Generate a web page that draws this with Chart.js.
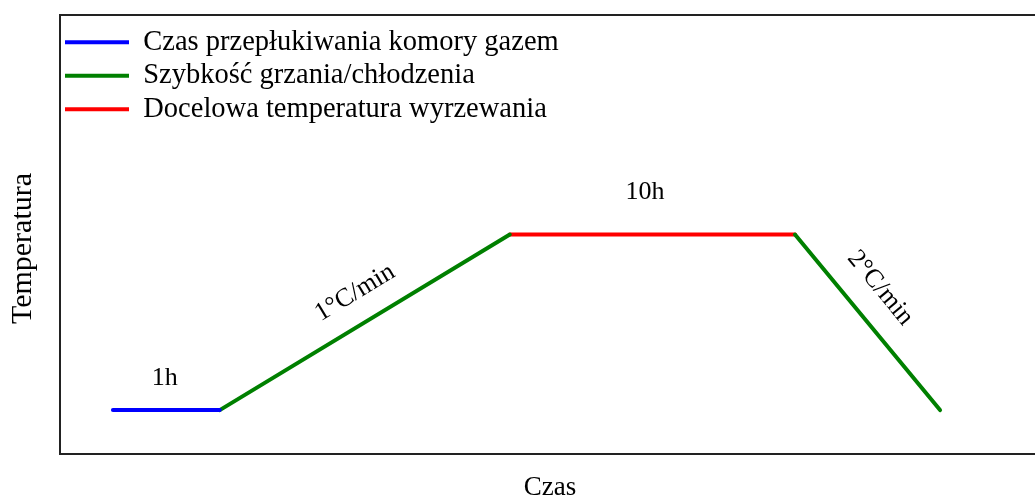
<!DOCTYPE html>
<html>
<head>
<meta charset="utf-8">
<script src="https://cdn.jsdelivr.net/npm/chart.js@4.4.0/dist/chart.umd.min.js"></script>
<style>
  html, body { margin: 0; padding: 0; background: #fff; overflow: hidden; }
  #wrap { width: 1045px; height: 495px; }
</style>
</head>
<body>
<div id="wrap"><canvas id="procesChart"></canvas></div>
<script>
// dane (jednostki umowne)
const czasPlukania = [5.4, 16.3];
const tempPlukania = [10, 10];

const czasGrzania = [16.3, 45.9, 60, 75, 89.8];
const tempGrzania = [10, 50, null, 50, 10];

const czasWygrzewania = [45.9, 75];
const tempWygrzewania = [50, 50];

const etykiety = ['1h', '1\u00B0C/min', '10h', '2\u00B0C/min'];
const etykietyX = [10.7, 30.1, 59.7, 83.7];
const etykietyY = [17.3, 36.7, 59.7, 37.8];
// odcinek, wzdłuż którego obrócony jest napis (indeksy w czasGrzania), null = poziomo
const etykietyOdcinek = [null, [0, 1], null, [3, 4]];

const FONT = "'Liberation Serif', 'Times New Roman', serif";

function toPoints(xs, ys) {
  return xs.map((x, i) => ({ x: x, y: ys[i] }));
}

const ramka = {
  id: 'ramka',
  afterDraw(chart) {
    const { ctx, chartArea } = chart;
    ctx.save();
    ctx.strokeStyle = '#222';
    ctx.lineWidth = 2;
    ctx.strokeRect(chartArea.left, chartArea.top, chartArea.right - chartArea.left, chartArea.bottom - chartArea.top);
    // tytuł osi Y, lekko poniżej środka jak w oryginale
    ctx.fillStyle = '#000';
    ctx.font = '30px ' + FONT;
    ctx.textAlign = 'center';
    ctx.textBaseline = 'middle';
    ctx.translate(chartArea.left - 37, (chartArea.top + chartArea.bottom) / 2 + 14);
    ctx.rotate(-Math.PI / 2);
    ctx.fillText('Temperatura', 0, 0);
    ctx.restore();
  }
};

const napisy = {
  id: 'napisy',
  afterDatasetsDraw(chart) {
    const { ctx, scales } = chart;
    ctx.save();
    ctx.font = '26px ' + FONT;
    ctx.fillStyle = '#000';
    ctx.textAlign = 'center';
    ctx.textBaseline = 'middle';
    etykiety.forEach((txt, i) => {
      const px = scales.x.getPixelForValue(etykietyX[i]);
      const py = scales.y.getPixelForValue(etykietyY[i]);
      let kat = 0;
      const odc = etykietyOdcinek[i];
      if (odc) {
        const x1 = scales.x.getPixelForValue(czasGrzania[odc[0]]);
        const y1 = scales.y.getPixelForValue(tempGrzania[odc[0]]);
        const x2 = scales.x.getPixelForValue(czasGrzania[odc[1]]);
        const y2 = scales.y.getPixelForValue(tempGrzania[odc[1]]);
        kat = Math.atan2(y2 - y1, x2 - x1);
      }
      ctx.save();
      ctx.translate(px, py);
      ctx.rotate(kat);
      ctx.fillText(txt, 0, 0);
      ctx.restore();
    });
    ctx.restore();
  }
};

const ctx = document.getElementById('procesChart');
new Chart(ctx, {
  type: 'scatter',
  data: {
    datasets: [
      {
        label: 'Czas przepłukiwania komory gazem',
        data: toPoints(czasPlukania, tempPlukania),
        borderColor: '#0000ff',
        backgroundColor: '#0000ff',
        borderWidth: 4
      },
      {
        label: 'Szybkość grzania/chłodzenia',
        data: toPoints(czasGrzania, tempGrzania),
        borderColor: '#008000',
        backgroundColor: '#008000',
        borderWidth: 4
      },
      {
        label: 'Docelowa temperatura wyrzewania',
        data: toPoints(czasWygrzewania, tempWygrzewania),
        borderColor: '#ff0000',
        backgroundColor: '#ff0000',
        borderWidth: 4
      }
    ]
  },
  options: {
    responsive: true,
    maintainAspectRatio: false,
    animation: false,
    showLine: true,
    spanGaps: false,
    elements: {
      point: { radius: 0, hoverRadius: 0 },
      line: { borderWidth: 4, borderCapStyle: 'round', borderJoinStyle: 'round' }
    },
    layout: { padding: { top: 15, right: 5, left: 0, bottom: 0 } },
    scales: {
      x: {
        type: 'linear',
        min: 0,
        max: 100,
        grid: { display: false },
        border: { display: false },
        ticks: { display: false },
        title: { display: true, text: 'Czas', color: '#000', font: { family: FONT, size: 27 }, padding: { top: 14, bottom: -9 } },
        afterFit: s => { s.height = 41; }
      },
      y: {
        min: 0,
        max: 100,
        grid: { display: false },
        border: { display: false },
        ticks: { display: false },
        title: { display: false },
        afterFit: s => { s.width = 60; }
      }
    },
    plugins: {
      tooltip: { enabled: false },
      legend: {
        position: 'chartArea',
        align: 'start',
        title: { display: true, text: '', font: { size: 23, lineHeight: 1 }, padding: 0 },
        labels: {
          usePointStyle: true,
          pointStyle: 'line',
          pointStyleWidth: 64,
          color: '#000',
          font: { family: FONT, size: 28.5 },
          padding: 5
        }
      }
    }
  },
  plugins: [ramka, napisy]
});
</script>
</body>
</html>
